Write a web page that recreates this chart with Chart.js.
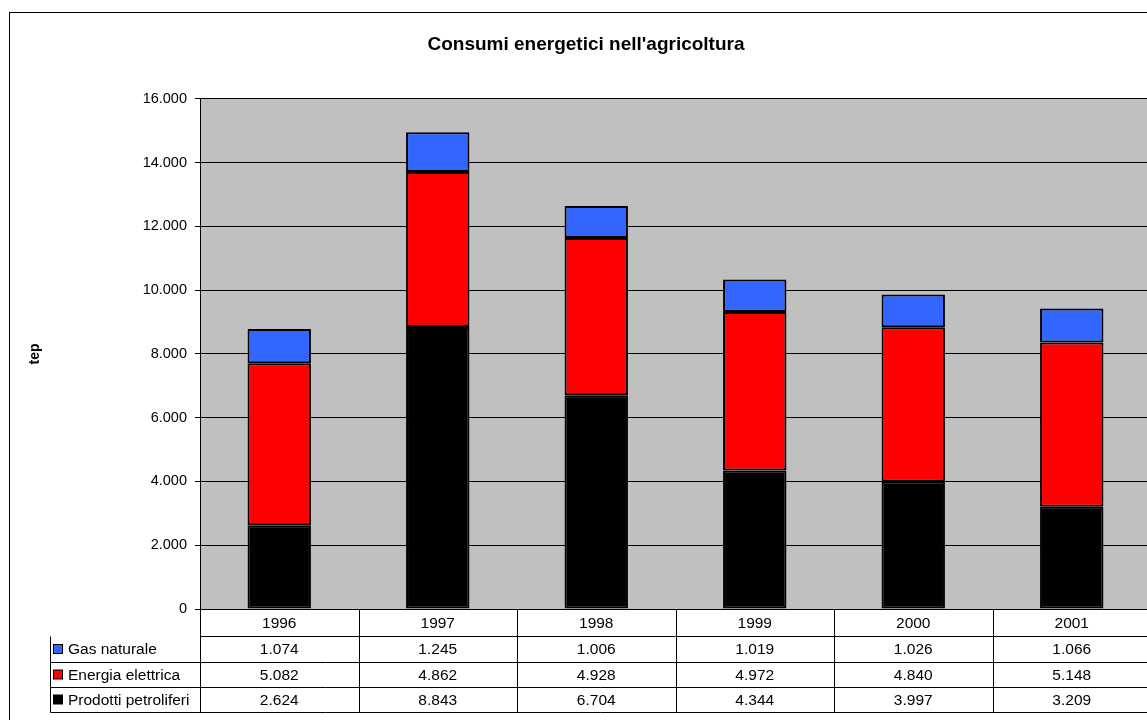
<!DOCTYPE html>
<html>
<head>
<meta charset="utf-8">
<title>Consumi energetici nell'agricoltura</title>
<script src="https://cdn.jsdelivr.net/npm/chart.js@4/dist/chart.umd.min.js"></script>
<style>
  html, body { margin: 0; padding: 0; background: #fff; overflow: hidden; }
  canvas { display: block; }
</style>
</head>
<body>
<canvas id="myChart" width="1170" height="720"></canvas>
<script>
const years = ['1996', '1997', '1998', '1999', '2000', '2001'];
const gasNaturale = [1074, 1245, 1006, 1019, 1026, 1066];
const energiaElettrica = [5082, 4862, 4928, 4972, 4840, 5148];
const prodottiPetroliferi = [2624, 8843, 6704, 4344, 3997, 3209];
const yTicks = [0, 2000, 4000, 6000, 8000, 10000, 12000, 14000, 16000];

const FONT = '"Liberation Sans", Arial, sans-serif';

// 12345 -> "12.345"
const fmt = (v) => String(v).replace(/\B(?=(\d{3})+(?!\d))/g, '.');

// cornice esterna e sfondo grigio dell'area del grafico
const background = {
  id: 'background',
  beforeDraw(chart) {
    const { ctx, chartArea: a } = chart;
    ctx.save();
    ctx.strokeStyle = '#000';
    ctx.lineWidth = 1;
    ctx.strokeRect(9.5, 12.5, chart.width, chart.height + 20);
    ctx.fillStyle = '#c0c0c0';
    ctx.fillRect(a.left, a.top, a.right - a.left, a.bottom - a.top);
    ctx.restore();
  }
};

// tabella dati sotto l'asse x, con la legenda nella prima colonna
const dataTable = {
  id: 'dataTable',
  afterDraw(chart) {
    const { ctx, chartArea: a } = chart;
    const x = chart.scales.x;
    const half = (x.getPixelForValue(1) - x.getPixelForValue(0)) / 2;
    const legendLeft = 50.5;
    const rows = [a.bottom, 636, 662, 687, 712];

    ctx.save();
    ctx.strokeStyle = '#000';
    ctx.lineWidth = 1;
    ctx.beginPath();
    for (let i = 1; i < rows.length; i++) {
      const y = Math.round(rows[i]) + 0.5;
      ctx.moveTo(i === 1 ? a.left : legendLeft, y);
      ctx.lineTo(a.right, y);
    }
    ctx.moveTo(legendLeft, rows[1] + 0.5);
    ctx.lineTo(legendLeft, rows[4] + 0.5);
    years.forEach((_, i) => {
      const xl = Math.round(x.getPixelForValue(i) - half) + 0.5;
      ctx.moveTo(xl, a.bottom);
      ctx.lineTo(xl, rows[4] + 0.5);
    });
    ctx.moveTo(a.right + 0.5, a.bottom);
    ctx.lineTo(a.right + 0.5, rows[4] + 0.5);
    ctx.stroke();

    ctx.fillStyle = '#000';
    ctx.font = '15.5px ' + FONT;
    ctx.textBaseline = 'middle';
    ctx.textAlign = 'center';
    years.forEach((yr, i) => {
      ctx.fillText(yr, x.getPixelForValue(i), (rows[0] + rows[1]) / 2 + 1);
    });

    // righe nell'ordine della legenda: dall'alto della pila verso il basso
    const ds = chart.data.datasets.slice().reverse();
    ds.forEach((d, r) => {
      const cy = (rows[r + 1] + rows[r + 2]) / 2 + 1;
      ctx.fillStyle = d.backgroundColor;
      ctx.fillRect(53.5, cy - 5.5, 9, 9);
      ctx.strokeRect(53.5, cy - 5.5, 9, 9);
      ctx.fillStyle = '#000';
      ctx.textAlign = 'left';
      ctx.fillText(d.label, 68, cy);
      ctx.textAlign = 'center';
      d.data.forEach((v, i) => {
        ctx.fillText(fmt(v), x.getPixelForValue(i), cy);
      });
    });
    ctx.restore();
  }
};

const ctx = document.getElementById('myChart');

new Chart(ctx, {
  type: 'bar',
  data: {
    labels: years,
    datasets: [{
      label: 'Prodotti petroliferi',
      data: prodottiPetroliferi,
      backgroundColor: '#000000'
    }, {
      label: 'Energia elettrica',
      data: energiaElettrica,
      backgroundColor: '#ff0000'
    }, {
      label: 'Gas naturale',
      data: gasNaturale,
      backgroundColor: '#3366ff'
    }].map(d => Object.assign(d, {
      borderColor: '#000',
      borderWidth: 2,
      borderSkipped: false,
      barPercentage: 0.4,
      categoryPercentage: 1
    }))
  },
  options: {
    responsive: false,
    animation: false,
    devicePixelRatio: 1,
    layout: { padding: { left: 21, right: 19, top: 0, bottom: 0 } },
    plugins: {
      legend: { display: false },
      tooltip: { enabled: false },
      title: {
        display: true,
        text: "Consumi energetici nell'agricoltura",
        color: '#000',
        font: { family: FONT, size: 19, weight: 'bold' },
        padding: { top: 33, bottom: 43 }
      }
    },
    scales: {
      x: {
        stacked: true,
        grid: { display: false, drawTicks: false },
        border: { display: true, color: '#000', width: 1 },
        ticks: { display: false },
        afterFit: (scale) => { scale.height = 111; }
      },
      y: {
        stacked: true,
        min: 0,
        max: 16000,
        afterBuildTicks: (scale) => { scale.ticks = yTicks.map(v => ({ value: v })); },
        grid: { color: '#000', lineWidth: 1, tickLength: 5 },
        border: { display: true, color: '#000', width: 1 },
        ticks: {
          color: '#000',
          padding: 8,
          font: { family: FONT, size: 14.5 },
          callback: (v) => fmt(v)
        },
        title: {
          display: true,
          text: 'tep',
          color: '#000',
          font: { family: FONT, size: 14, weight: 'bold' },
          padding: { top: 6, bottom: 0 }
        },
        afterFit: (scale) => { scale.width = 179; }
      }
    }
  },
  plugins: [background, dataTable]
});
</script>
</body>
</html>
